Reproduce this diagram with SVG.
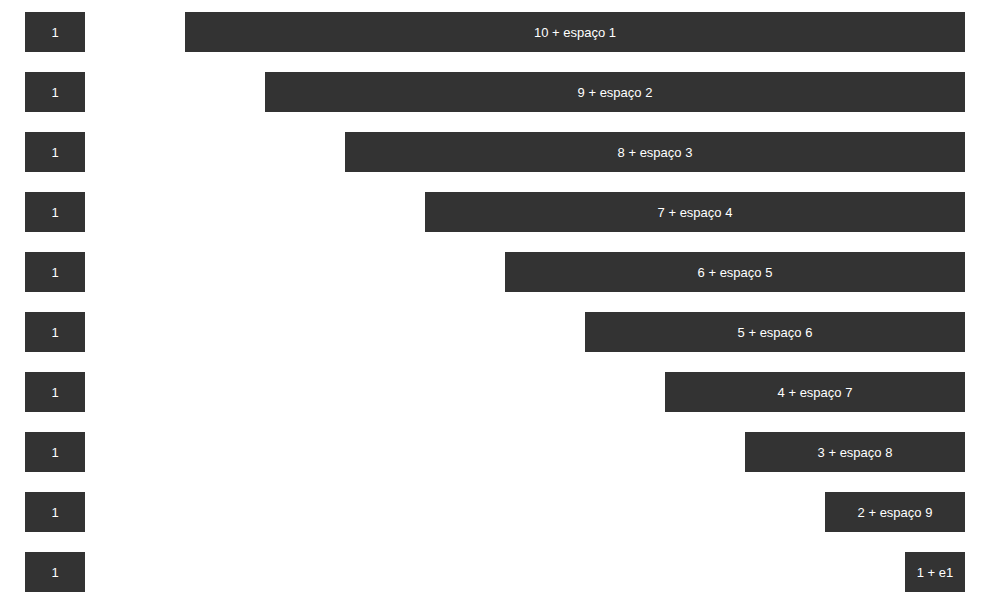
<svg xmlns="http://www.w3.org/2000/svg" width="983" height="607" viewBox="0 0 983 607">
<style>
rect{fill:#333333}
text{fill:#ffffff;font-family:"Liberation Sans",Arial,sans-serif;font-size:13px;text-anchor:middle}
</style>
<rect x="0" y="0" width="983" height="607" style="fill:#ffffff"/>
<g id="connectors"/>
<g id="l1"><rect x="25" y="12" width="60" height="40"/><text x="55" y="37">1</text></g>
<g id="l2"><rect x="25" y="72" width="60" height="40"/><text x="55" y="97">1</text></g>
<g id="l3"><rect x="25" y="132" width="60" height="40"/><text x="55" y="157">1</text></g>
<g id="l4"><rect x="25" y="192" width="60" height="40"/><text x="55" y="217">1</text></g>
<g id="l5"><rect x="25" y="252" width="60" height="40"/><text x="55" y="277">1</text></g>
<g id="l6"><rect x="25" y="312" width="60" height="40"/><text x="55" y="337">1</text></g>
<g id="l7"><rect x="25" y="372" width="60" height="40"/><text x="55" y="397">1</text></g>
<g id="l8"><rect x="25" y="432" width="60" height="40"/><text x="55" y="457">1</text></g>
<g id="l9"><rect x="25" y="492" width="60" height="40"/><text x="55" y="517">1</text></g>
<g id="l10"><rect x="25" y="552" width="60" height="40"/><text x="55" y="577">1</text></g>
<g id="r1"><rect x="185" y="12" width="780" height="40"/><text x="575" y="37">10 + espaço 1</text></g>
<g id="r2"><rect x="265" y="72" width="700" height="40"/><text x="615" y="97">9 + espaço 2</text></g>
<g id="r3"><rect x="345" y="132" width="620" height="40"/><text x="655" y="157">8 + espaço 3</text></g>
<g id="r4"><rect x="425" y="192" width="540" height="40"/><text x="695" y="217">7 + espaço 4</text></g>
<g id="r5"><rect x="505" y="252" width="460" height="40"/><text x="735" y="277">6 + espaço 5</text></g>
<g id="r6"><rect x="585" y="312" width="380" height="40"/><text x="775" y="337">5 + espaço 6</text></g>
<g id="r7"><rect x="665" y="372" width="300" height="40"/><text x="815" y="397">4 + espaço 7</text></g>
<g id="r8"><rect x="745" y="432" width="220" height="40"/><text x="855" y="457">3 + espaço 8</text></g>
<g id="r9"><rect x="825" y="492" width="140" height="40"/><text x="895" y="517">2 + espaço 9</text></g>
<g id="r10"><rect x="905" y="552" width="60" height="40"/><text x="935" y="577">1 + e1</text></g>
</svg>
